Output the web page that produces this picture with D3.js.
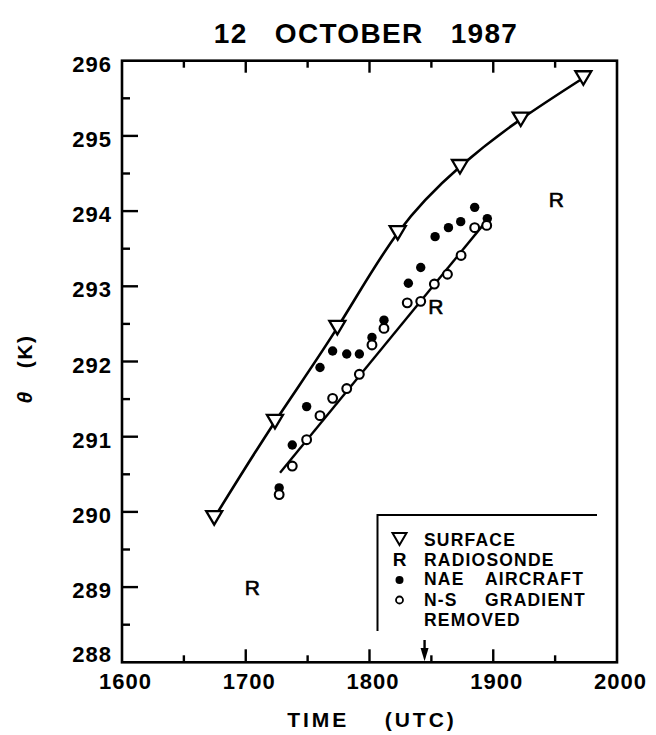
<!DOCTYPE html>
<html><head><meta charset="utf-8">
<script src="https://cdn.jsdelivr.net/npm/d3@7"></script>
<style>
html,body{margin:0;padding:0;background:#fff;}
svg text{font-family:"Liberation Sans",Arial,sans-serif;fill:#000;font-weight:bold;}
</style></head>
<body><svg id="c" width="656" height="735"></svg>
<script>
// ---- data ----
const xDomain = [1600, 2000];
const yDomain = [288, 296];
const xTickLabels = [1600, 1700, 1800, 1900, 2000];
const yTickLabels = [288, 289, 290, 291, 292, 293, 294, 295, 296];

const surfaceTime  = [1674.5, 1723.6, 1774, 1822.8, 1873.1, 1922.2, 1972.8];
const surfaceTheta = [289.92, 291.2, 292.45, 293.71, 294.59, 295.22, 295.77];

const aircraftTime  = [1727, 1737.6, 1749.2, 1760, 1770.2, 1781.6, 1791.8, 1802, 1811.7, 1831.4, 1841.4, 1853, 1863.8, 1873.7, 1885, 1895.2];
const aircraftTheta = [290.32, 290.89, 291.40, 291.92, 292.14, 292.10, 292.10, 292.32, 292.55, 293.04, 293.25, 293.66, 293.78, 293.86, 294.05, 293.90];

const removedTime  = [1727, 1737.6, 1749.2, 1760, 1770.2, 1781.6, 1791.8, 1802, 1811.7, 1830.5, 1841.4, 1852.4, 1863, 1874, 1885, 1894.7];
const removedTheta = [290.23, 290.61, 290.96, 291.28, 291.51, 291.64, 291.83, 292.22, 292.44, 292.78, 292.80, 293.03, 293.16, 293.41, 293.78, 293.81];

const fitTime  = [1727.7, 1895];
const fitTheta = [290.52, 293.88];

const radiosondeTime  = [1705.3, 1853.7, 1951];
const radiosondeTheta = [289.0, 292.73, 294.15];

const arrowTime = 1844.5;

const legendLabels = [["SURFACE"], ["RADIOSONDE"], ["NAE", "AIRCRAFT"], ["N-S", "GRADIENT"], ["REMOVED"]];
const titleText = "12   OCTOBER   1987";
const xTitle = "TIME    (UTC)";

// ---- layout ----
const svg = d3.select("#c");
const L = 122, R = 617, T = 60.7, B = 662.3;
const x = d3.scaleLinear().domain(xDomain).range([L, R]);
const y = d3.scaleLinear().domain(yDomain).range([B, T]);

// frame
svg.append("rect").attr("x", L).attr("y", T).attr("width", R - L).attr("height", B - T)
  .attr("fill", "none").attr("stroke", "#000").attr("stroke-width", 2.6);

// axes ticks
const xMajor = d3.range(1600, 2001, 100), xMinor = d3.range(1650, 2000, 100);
const yMajor = d3.range(288, 296.01, 1), yMinor = d3.range(288.5, 296, 1);

const bottom = svg.append("g").attr("transform", `translate(0,${B})`)
  .call(d3.axisBottom(x).tickValues(xTickLabels).tickSize(0).tickFormat(d3.format("d")));
bottom.select(".domain").remove();
bottom.selectAll("text").attr("font-size", 22).attr("letter-spacing", 1)
  .attr("dx", 3).attr("y", 27).attr("dy", 0);

const left = svg.append("g").attr("transform", `translate(${L},0)`)
  .call(d3.axisLeft(y).tickValues(yTickLabels).tickSize(0).tickPadding(10).tickFormat(d3.format("d")));
left.select(".domain").remove();
left.selectAll("text").attr("font-size", 22).attr("letter-spacing", 1)
  .attr("dy", d => d === yDomain[0] ? "-0.05em" : "0.48em");

const tk = svg.append("g").attr("stroke", "#000").attr("stroke-width", 2.4);
xMajor.forEach(v => { if (v > 1600 && v < 2000) {
  tk.append("line").attr("x1", x(v)).attr("x2", x(v)).attr("y1", B).attr("y2", B - 13);
  tk.append("line").attr("x1", x(v)).attr("x2", x(v)).attr("y1", T).attr("y2", T + 12);
}});
xMinor.forEach(v => {
  tk.append("line").attr("x1", x(v)).attr("x2", x(v)).attr("y1", B).attr("y2", B - 7);
  tk.append("line").attr("x1", x(v)).attr("x2", x(v)).attr("y1", T).attr("y2", T + 7);
});
yMajor.forEach(v => { if (v > 288 && v < 296)
  tk.append("line").attr("x1", L).attr("x2", L + 16).attr("y1", y(v)).attr("y2", y(v)); });
yMinor.forEach(v => tk.append("line").attr("x1", L).attr("x2", L + 8).attr("y1", y(v)).attr("y2", y(v)));

// title & axis titles
svg.append("text").attr("x", 366).attr("y", 43).attr("text-anchor", "middle")
  .attr("font-size", 28).attr("letter-spacing", 1.3).style("white-space", "pre").text(titleText);
svg.append("text").attr("x", 372).attr("y", 727).attr("text-anchor", "middle")
  .attr("font-size", 21).attr("letter-spacing", 3).style("white-space", "pre").text(xTitle);
const yt = svg.append("text").attr("transform", "translate(32,369) rotate(-90)").attr("text-anchor", "middle")
  .attr("font-size", 21).attr("letter-spacing", 1.5).style("white-space", "pre");
yt.append("tspan").attr("font-style", "italic").text("θ");
yt.append("tspan").text("   (K)");

// fitted line through removed-gradient points
const line = d3.line().x(d => x(d[0])).y(d => y(d[1]));
svg.append("path").attr("d", line(d3.zip(fitTime, fitTheta)))
  .attr("fill", "none").attr("stroke", "#000").attr("stroke-width", 2.4);

// surface curve
const curve = d3.line().x(d => x(d[0])).y(d => y(d[1])).curve(d3.curveNatural);
svg.append("path").attr("d", curve(d3.zip(surfaceTime, surfaceTheta)))
  .attr("fill", "none").attr("stroke", "#000").attr("stroke-width", 2.6);

// aircraft (filled)
svg.append("g").selectAll("circle").data(d3.zip(aircraftTime, aircraftTheta)).join("circle")
  .attr("cx", d => x(d[0])).attr("cy", d => y(d[1])).attr("r", 4.7).attr("fill", "#000");

// removed gradient (open)
svg.append("g").selectAll("circle").data(d3.zip(removedTime, removedTheta)).join("circle")
  .attr("cx", d => x(d[0])).attr("cy", d => y(d[1])).attr("r", 4.4)
  .attr("fill", "#fff").attr("stroke", "#000").attr("stroke-width", 2.1);

// surface triangles
const tri = (cx, cy, w, h) => `M${cx - w/2},${cy - h/2}L${cx + w/2},${cy - h/2}L${cx},${cy + h/2}Z`;
svg.append("g").selectAll("path").data(d3.zip(surfaceTime, surfaceTheta)).join("path")
  .attr("d", d => tri(x(d[0]), y(d[1]), 16, 13.5))
  .attr("fill", "#fff").attr("stroke", "#000").attr("stroke-width", 2.3).attr("stroke-linejoin", "miter");

// radiosonde
svg.append("g").selectAll("text").data(d3.zip(radiosondeTime, radiosondeTheta)).join("text")
  .attr("x", d => x(d[0])).attr("y", d => y(d[1]) + 7.5).attr("text-anchor", "middle")
  .attr("font-size", 21).style("font-weight", "normal")
  .attr("stroke", "#000").attr("stroke-width", 0.6).text("R");

// arrow
const ax = x(arrowTime);
svg.append("line").attr("x1", ax).attr("x2", ax).attr("y1", 640).attr("y2", 652)
  .attr("stroke", "#000").attr("stroke-width", 2.4);
svg.append("path").attr("d", `M${ax - 4},${648}L${ax + 4},${648}L${ax},${B - 1}Z`).attr("fill", "#000");

// legend
const lg = svg.append("g");
lg.append("path").attr("d", "M377.5,631V515H597").attr("fill", "none").attr("stroke", "#000").attr("stroke-width", 2);
const ly = [545.5, 565.5, 585, 605.5, 626];
legendLabels.forEach((parts, i) => {
  const t = lg.append("text").attr("y", ly[i]).attr("font-size", 17.5).attr("letter-spacing", 1.2);
  t.append("tspan").attr("x", 424).text(parts[0]);
  if (parts[1]) t.append("tspan").attr("x", 485).text(parts[1]);
});
lg.append("path").attr("d", tri(399.5, 539, 14, 12)).attr("fill", "#fff").attr("stroke", "#000").attr("stroke-width", 2);
lg.append("text").attr("x", 399.5).attr("y", 566).attr("text-anchor", "middle").attr("font-size", 19).text("R");
lg.append("circle").attr("cx", 399.5).attr("cy", 580).attr("r", 4).attr("fill", "#000");
lg.append("circle").attr("cx", 399.5).attr("cy", 600).attr("r", 3.5).attr("fill", "#fff").attr("stroke", "#000").attr("stroke-width", 1.8);
</script></body></html>
